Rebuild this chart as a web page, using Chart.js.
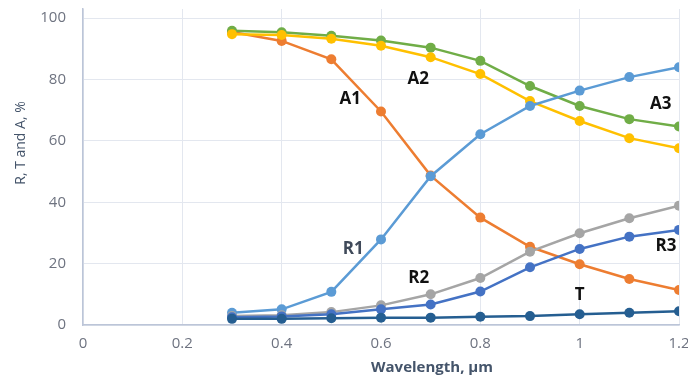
<!DOCTYPE html>
<html><head><meta charset="utf-8">
<script src="https://cdn.jsdelivr.net/npm/chart.js@4"></script>
<style>html,body{margin:0;padding:0;background:#fff;overflow:hidden;width:688px;height:378px}#wrap{width:688px;height:378px;position:relative}</style>
</head><body><div id="wrap"><canvas id="c"></canvas></div>
<script>
const wavelengths = [0.3,0.4,0.5,0.6,0.7,0.8,0.9,1.0,1.1,1.2];
const A1 = [95.5,92.6,86.6,69.6,48.7,35.0,25.5,19.8,15.0,11.4];
const A2 = [94.8,94.5,93.3,91.0,87.3,81.8,73.0,66.5,60.9,57.6];
const A3 = [95.9,95.4,94.3,92.7,90.4,86.1,77.9,71.4,67.1,64.7];
const R1 = [4.0,5.1,10.8,27.9,48.5,62.2,71.4,76.4,80.8,84.0];
const R2 = [2.9,3.2,4.2,6.4,10.0,15.3,23.9,29.9,34.8,38.9];
const R3 = [2.5,2.8,3.5,5.1,6.7,10.9,18.8,24.8,28.8,31.0];
const T  = [2.0,2.0,2.2,2.4,2.4,2.7,2.9,3.5,4.0,4.5];
const xTicks = [0,0.2,0.4,0.6,0.8,1,1.2];
const yTicks = [0,20,40,60,80,100];
const curveLabels = [
  {text:'A1', x:0.538, y:73.7},
  {text:'A2', x:0.675, y:80.2},
  {text:'A3', x:1.163, y:72.1},
  {text:'R1', x:0.544, y:24.8, color:'#404A5A'},
  {text:'R2', x:0.676, y:15.4},
  {text:'R3', x:1.174, y:25.6},
  {text:'T',  x:1.0,   y:9.8}
];
const FONT = '"Open Sans", "DejaVu Sans", sans-serif';
const pts = arr => arr.map((v,i)=>({x:wavelengths[i], y:v}));
function ds(label, data, color){
  return {label, data:pts(data), borderColor:color, backgroundColor:color, borderWidth:2.5,
    pointRadius:5, pointHoverRadius:5, pointBorderWidth:0, showLine:true, tension:0};
}
const datasets = [
  ds('T', T, '#255E91'),
  ds('R3', R3, '#4472C4'),
  ds('R2', R2, '#A5A5A5'),
  ds('R1', R1, '#5B9BD5'),
  ds('A2', A2, '#FFC000'),
  ds('A3', A3, '#70AD47'),
  ds('A1', A1, '#ED7D31')
];
const textPlugin = {
  id:'texts',
  afterDatasetsDraw(chart){
    const ctx = chart.ctx, xs = chart.scales.x, ys = chart.scales.y;
    ctx.save();
    ctx.textAlign='center'; ctx.textBaseline='middle';
    ctx.font = 'bold 17px ' + FONT;
    curveLabels.forEach(l=>{
      ctx.fillStyle = l.color || '#111';
      ctx.fillText(l.text, xs.getPixelForValue(l.x), ys.getPixelForValue(l.y));
    });
    ctx.fillStyle = '#44546A';
    ctx.font = '14px ' + FONT;
    ctx.save();
    ctx.translate(21, 143);
    ctx.rotate(-Math.PI/2);
    ctx.fillText('R, T and A, %', 0, 0);
    ctx.restore();
    ctx.font = 'bold 15px ' + FONT;
    ctx.fillText('Wavelength, µm', 432, 368);
    ctx.restore();
  }
};
new Chart(document.getElementById('c'), {
  type:'scatter',
  data:{datasets},
  plugins:[textPlugin],
  options:{
    responsive:true, maintainAspectRatio:false, animation:false,
    layout:{padding:{top:9, right:9, left:0, bottom:0}},
    plugins:{legend:{display:false}, tooltip:{enabled:false}},
    scales:{
      x:{type:'linear', min:0, max:1.2,
        afterBuildTicks: s => { s.ticks = xTicks.map(v=>({value:v})); },
        afterFit: s => { s.height = 53; s.paddingLeft = 0; s.paddingRight = 0; },
        ticks:{color:'#6E7380', font:{size:15, family:FONT}, padding:10, maxRotation:0,
          callback: v => String(v)},
        grid:{color:'#E3E7EF', lineWidth:1, drawTicks:false},
        border:{color:'#BCC5D8', width:1.5}
      },
      y:{type:'linear', min:0, max:103,
        afterBuildTicks: s => { s.ticks = yTicks.map(v=>({value:v})); },
        afterFit: s => { s.width = 83; s.paddingTop = 0; s.paddingBottom = 0; },
        ticks:{color:'#6E7380', font:{size:15, family:FONT}, padding:17},
        grid:{color:'#E3E7EF', lineWidth:1, drawTicks:false},
        border:{color:'#BCC5D8', width:1.5}
      }
    }
  }
});
</script></body></html>
